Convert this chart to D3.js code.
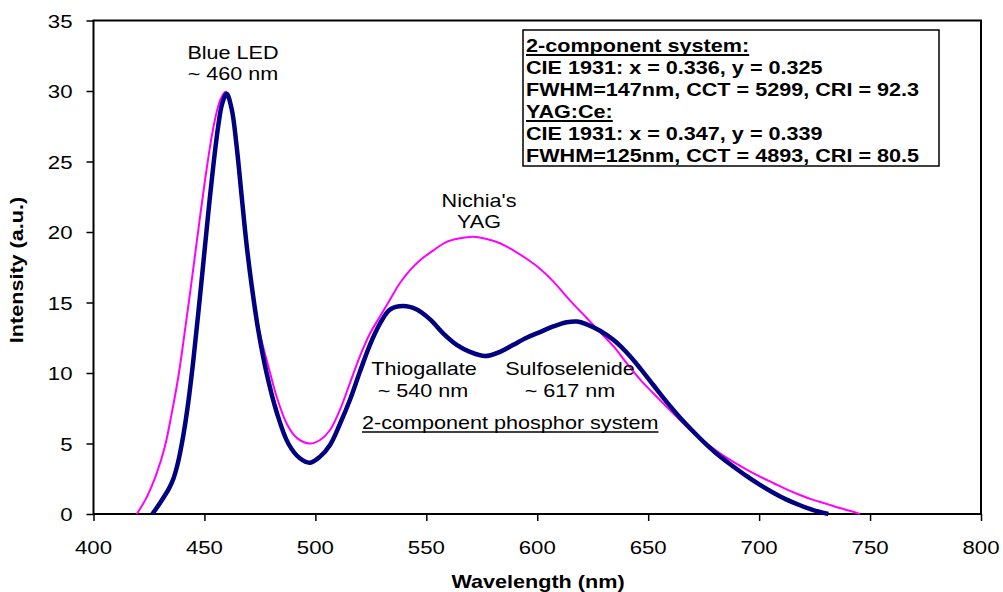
<!DOCTYPE html>
<html>
<head>
<meta charset="utf-8">
<script src="https://cdn.jsdelivr.net/npm/d3@7/dist/d3.min.js"></script>
<style>
  html, body { margin: 0; padding: 0; background: #fff; }
  svg { display: block; }
</style>
</head>
<body>
<svg id="chart" width="1003" height="592"></svg>
<script>
// Emission spectra: 2-component phosphor system vs. Nichia's YAG
const twoCompWavelength = [426.5, 429, 431.5, 434, 436, 438, 440.5, 442.7, 445, 447.2, 449.5, 451.7, 454, 456.2, 458, 460, 462.3, 464.5, 466.8, 469, 471.3, 474.3, 478, 482.6, 487.8, 493, 497.6, 502, 506.6, 511.1, 515.6, 520.1, 524.6, 529.1, 533.6, 539.6, 545.7, 551.7, 557.7, 563.7, 569.7, 576.4, 583.2, 589.2, 595.2, 601.2, 607.2, 613.3, 618, 622.3, 628.3, 634.3, 640.3, 646.3, 652.3, 658.3, 664.3, 670.3, 676.4, 682.4, 688.4, 694.4, 700.4, 706.4, 712.4, 718.4, 724.4, 731.2];
const twoCompIntensity = [0, 0.55, 1.15, 1.8, 2.5, 3.6, 5.6, 7.9, 10.9, 14.2, 17.8, 21.3, 24.7, 27.5, 29.1, 29.8, 28.7, 26.1, 22.5, 19.1, 16.2, 13.0, 10.0, 7.2, 5.0, 3.95, 3.64, 4.05, 4.9, 6.4, 8.1, 10.1, 12.0, 13.5, 14.5, 14.75, 14.5, 13.8, 12.8, 12.0, 11.5, 11.2, 11.5, 12.0, 12.5, 12.9, 13.3, 13.6, 13.65, 13.45, 13.0, 12.35, 11.45, 10.35, 9.15, 7.95, 6.85, 5.85, 4.9, 4.07, 3.36, 2.68, 2.06, 1.51, 1.02, 0.62, 0.28, 0];

const yagWavelength = [419.5, 424, 428.5, 432.2, 435.2, 438.2, 441.2, 444.3, 447.2, 450.2, 453.3, 455.5, 457.5, 459.5, 461.5, 464.5, 466.8, 469, 471.3, 474.3, 479.6, 482.6, 487.1, 491.6, 497.6, 502.1, 506.6, 511.1, 515.6, 520.1, 524.6, 529.1, 533.6, 538.2, 542.7, 547.2, 553.2, 559.2, 565.2, 571.2, 577.2, 583.2, 589.2, 595.2, 601.2, 607.2, 613.3, 618, 622.3, 628.3, 634.3, 640.3, 646.3, 652.3, 658.3, 664.3, 670.3, 676.4, 682.4, 688.4, 694.4, 700.4, 706.4, 712.4, 718.4, 724.4, 730.4, 736.4, 742.4, 745.4];
const yagIntensity = [0, 1.2, 2.9, 4.8, 7.1, 9.7, 13.0, 16.6, 20.1, 23.6, 26.8, 28.5, 29.5, 29.95, 29.4, 26.3, 22.8, 19.4, 16.4, 13.3, 10.0, 8.3, 6.4, 5.4, 5.0, 5.25, 5.96, 7.4, 9.3, 11.2, 12.8, 14.0, 15.2, 16.4, 17.3, 18.0, 18.7, 19.3, 19.55, 19.67, 19.5, 19.2, 18.7, 18.1, 17.4, 16.5, 15.4, 14.6, 13.9, 12.9, 11.9, 10.7, 9.55, 8.56, 7.6, 6.67, 5.75, 5.0, 4.3, 3.7, 3.15, 2.65, 2.2, 1.75, 1.35, 1.0, 0.72, 0.42, 0.16, 0];

const xTicks = [400, 450, 500, 550, 600, 650, 700, 750, 800];
const yTicks = [0, 5, 10, 15, 20, 25, 30, 35];

const infoLines = [
  { text: "2-component system:", underline: true },
  { text: "CIE 1931: x = 0.336, y = 0.325", underline: false },
  { text: "FWHM=147nm, CCT = 5299, CRI = 92.3", underline: false },
  { text: "YAG:Ce:", underline: true },
  { text: "CIE 1931: x = 0.347, y = 0.339", underline: false },
  { text: "FWHM=125nm, CCT = 4893, CRI = 80.5", underline: false }
];

// Layout
const plot = { left: 93.5, right: 981, top: 20.5, bottom: 514 };
const FONT = "'Liberation Sans', Arial, sans-serif";
const SX = 1.2; // horizontal stretch of the lettering

const svg = d3.select("#chart");
svg.append("rect").attr("width", 1003).attr("height", 592).attr("fill", "#fff");

const x = d3.scaleLinear().domain([400, 800]).range([plot.left, plot.right]);
const y = d3.scaleLinear().domain([0, 35]).range([plot.bottom, plot.top]);

function label(parent, px, py, str, opts = {}) {
  const t = parent.append("text")
    .attr("transform", `translate(${px},${py})${opts.rotate ? ` rotate(${opts.rotate})` : ""} scale(${SX},1)`)
    .attr("font-family", FONT)
    .attr("font-size", opts.size || 18)
    .attr("font-weight", opts.bold ? "bold" : "normal")
    .attr("text-anchor", opts.anchor || "start")
    .attr("fill", "#000")
    .text(str);
  if (opts.underline) {
    const bb = t.node().getBBox();
    parent.append("line")
      .attr("x1", px + bb.x * SX).attr("x2", px + (bb.x + bb.width) * SX)
      .attr("y1", py + 3).attr("y2", py + 3)
      .attr("stroke", "#000").attr("stroke-width", opts.bold ? 2 : 1.3);
  }
  return t;
}

// Axes
const yAxis = svg.append("g")
  .attr("transform", `translate(${plot.left},0)`)
  .call(d3.axisLeft(y).tickValues(yTicks).tickSize(7).tickSizeOuter(0).tickFormat(""));
const xAxis = svg.append("g")
  .attr("transform", `translate(0,${plot.bottom})`)
  .call(d3.axisBottom(x).tickValues(xTicks).tickSize(7).tickSizeOuter(0).tickFormat(""));
[yAxis, xAxis].forEach(g => {
  g.select(".domain").remove();
  g.selectAll(".tick line").attr("stroke", "#000").attr("stroke-width", 1.5);
});

yTicks.forEach(v => label(svg, plot.left - 21, y(v) + 7, String(v), { anchor: "end", size: 18.5 }));
xTicks.forEach(v => label(svg, x(v), 554, String(v), { anchor: "middle", size: 18.5 }));

// Plot frame
svg.append("rect")
  .attr("x", plot.left).attr("y", plot.top)
  .attr("width", plot.right - plot.left).attr("height", plot.bottom - plot.top)
  .attr("fill", "none").attr("stroke", "#000").attr("stroke-width", 2);

// Axis titles
label(svg, 538, 588, "Wavelength (nm)", { anchor: "middle", bold: true });
label(svg, 23, 270, "Intensity (a.u.)", { anchor: "middle", bold: true, rotate: -90 });

// Spectra
const line = d3.line().x(d => x(d[0])).y(d => y(d[1])).curve(d3.curveCatmullRom.alpha(0.5));
const yagData = d3.zip(yagWavelength, yagIntensity);
const twoCompData = d3.zip(twoCompWavelength, twoCompIntensity);

svg.append("path").datum(yagData)
  .attr("d", line).attr("fill", "none")
  .attr("stroke", "#FF00FF").attr("stroke-width", 2).attr("stroke-linejoin", "round");
svg.append("path").datum(twoCompData)
  .attr("d", line).attr("fill", "none")
  .attr("stroke", "#000080").attr("stroke-width", 4.5).attr("stroke-linejoin", "round");

// Peak annotations
label(svg, 233, 59, "Blue LED", { anchor: "middle" });
label(svg, 233, 80, "~ 460 nm", { anchor: "middle" });
label(svg, 479, 207, "Nichia's", { anchor: "middle" });
label(svg, 479, 228, "YAG", { anchor: "middle" });
label(svg, 424, 375, "Thiogallate", { anchor: "middle" });
label(svg, 423, 397, "~ 540 nm", { anchor: "middle" });
label(svg, 570, 375, "Sulfoselenide", { anchor: "middle" });
label(svg, 570, 397, "~ 617 nm", { anchor: "middle" });
label(svg, 362, 429, "2-component phosphor system", { underline: true });

// Info box
const box = svg.append("g");
box.append("rect")
  .attr("x", 523).attr("y", 30).attr("width", 416).attr("height", 136)
  .attr("fill", "#fff").attr("stroke", "#000").attr("stroke-width", 1.5);
infoLines.forEach((d, i) => {
  label(box, 526, 52 + i * 22, d.text, { bold: true, underline: d.underline });
});
</script>
</body>
</html>
